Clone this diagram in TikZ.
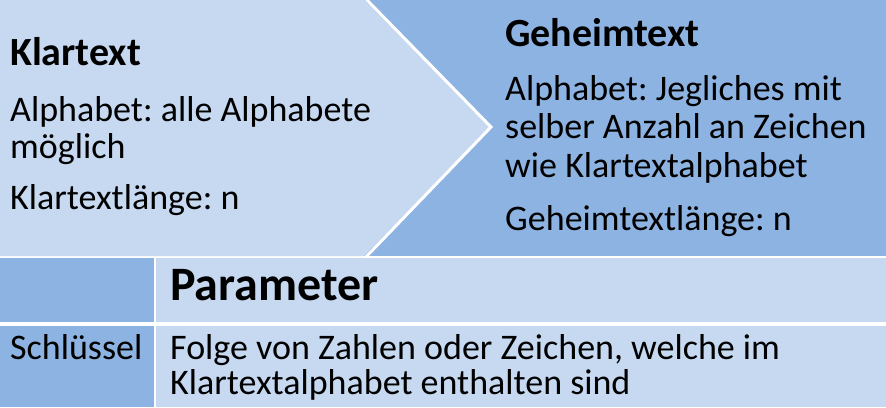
\documentclass[tikz,border=0pt]{standalone}
\usepackage{fontspec}
\setmainfont{Carlito}
\definecolor{lightblue}{HTML}{C6D9F1}
\definecolor{darkblue}{HTML}{8DB3E2}
\begin{document}
\frenchspacing
\begin{tikzpicture}[x=1pt,y=-1pt,
  txt/.style={anchor=base west, inner sep=0pt, font=\fontsize{36}{37.5}\selectfont},
  head/.style={anchor=base west, inner sep=0pt, font=\fontsize{40}{44}\selectfont\bfseries},
  param/.style={anchor=base west, inner sep=0pt, font=\fontsize{48}{52}\selectfont\bfseries},
  rowtxt/.style={anchor=base west, inner sep=0pt, font=\fontsize{36}{36}\selectfont}]
\useasboundingbox (0,0) rectangle (886,407);
\fill[white] (0,0) rectangle (886,407);
\fill[darkblue] (0,0) rectangle (886,256);
\fill[lightblue] (0,0) -- (364,0) -- (491,127) -- (364,256) -- (0,256) -- cycle;
\draw[white, line width=3pt] (364,-3) -- (491,127) -- (364,259);
\fill[darkblue] (0,258) rectangle (154,322);
\fill[lightblue] (156,258) rectangle (886,322);
\fill[darkblue] (0,326) rectangle (154,407);
\fill[lightblue] (156,326) rectangle (886,407);

\node[head] (kt) at (10,65) {Klartext};
\node[txt] (kt1) at (10,121) {Alphabet: alle Alphabete};
\node[txt] (kt2) at (10,158) {möglich};
\node[txt] (kt3) at (10,209) {Klartextlänge: n};

\node[head] (gt) at (505,46) {Geheimtext};
\node[txt] (gt1) at (505,100) {Alphabet: Jegliches mit};
\node[txt] (gt2) at (505,138) {selber Anzahl an Zeichen};
\node[txt] (gt3) at (505,177) {wie Klartextalphabet};
\node[txt] (gt4) at (505,230) {Geheimtextlänge: n};

\node[param] (pm) at (170,300) {Parameter};
\node[rowtxt] (sk) at (10,359) {Schlüssel};
\node[rowtxt] (f1) at (170,359) {Folge von Zahlen oder Zeichen, welche im};
\node[rowtxt] (f2) at (170,394) {Klartextalphabet enthalten sind};
\end{tikzpicture}
\end{document}
